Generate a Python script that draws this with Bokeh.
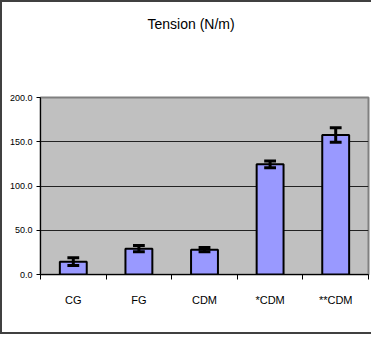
from bokeh.plotting import figure
from bokeh.models import (FixedTicker, PrintfTickFormatter, Range1d, ColumnDataSource, Title)
from bokeh.embed import file_html
from bokeh.resources import INLINE

# ---- data ----
categories = ["CG", "FG", "CDM", "*CDM", "**CDM"]
tension = [14.5, 29.2, 28.0, 124.5, 157.5]
errors = [4.3, 3.6, 2.4, 3.8, 8.2]
y_ticks = [0, 50, 100, 150, 200]
title_text = "Tension (N/m)"

FONT = "Liberation Sans"

xpos = [i + 1 for i in range(len(categories))]
src = ColumnDataSource(dict(
    x=xpos, top=tension,
    lo=[v - e for v, e in zip(tension, errors)],
    hi=[v + e for v, e in zip(tension, errors)],
    cl=[x - 0.09 for x in xpos], cr=[x + 0.09 for x in xpos],
))

# canvas starts at page (10,10) because of the 2px css border
p = figure(width=371, height=334, output_backend="svg", toolbar_location=None,
           x_range=Range1d(0.5, len(categories) + 0.5), y_range=Range1d(0, 200),
           min_border_left=38, min_border_right=5, min_border_top=95,
           min_border_bottom=62)
p.styles = {"border-top": "2px solid #404040", "border-left": "2px solid #404040",
            "border-bottom": "2px solid #404040"}
p.background_fill_color = "#C0C0C0"
p.border_fill_color = "white"
p.outline_line_color = "#808080"
p.outline_line_width = 2
p.title.text = ""

# spacer between the title and the plot frame, then the title itself
p.add_layout(Title(text=" ", text_font_size="1px", standoff=58), "above")
p.add_layout(Title(text=title_text, align="left", offset=107, standoff=10,
                   text_font=FONT, text_font_size="14px", text_font_style="normal",
                   text_color="black"), "above")

# grid
p.xgrid.grid_line_color = None
p.ygrid.grid_line_color = "#222222"
p.ygrid.grid_line_width = 1
p.ygrid.ticker = FixedTicker(ticks=y_ticks)

# y axis
p.yaxis.ticker = FixedTicker(ticks=y_ticks)
p.yaxis.formatter = PrintfTickFormatter(format="%.1f")
p.yaxis.axis_line_color = "black"
p.yaxis.major_tick_in = 0
p.yaxis.major_tick_out = 4
p.yaxis.minor_tick_line_color = None
p.yaxis.major_label_standoff = 4
p.yaxis.major_label_text_font = FONT
p.yaxis.major_label_text_font_size = "9px"
p.yaxis.major_label_text_color = "black"

# x axis: labels at centres, tick marks between categories
p.xaxis.ticker = FixedTicker(ticks=xpos,
                             minor_ticks=[x - 0.5 for x in xpos] + [xpos[-1] + 0.5])
p.xaxis.major_label_overrides = {x: c for x, c in zip(xpos, categories)}
p.xaxis.major_tick_line_color = None
p.xaxis.major_tick_in = 0
p.xaxis.major_tick_out = 0
p.xaxis.minor_tick_in = 0
p.xaxis.minor_tick_out = 5
p.xaxis.minor_tick_line_color = "black"
p.xaxis.axis_line_color = "black"
p.xaxis.major_label_standoff = 14
p.xaxis.major_label_text_font = FONT
p.xaxis.major_label_text_font_size = "11px"
p.xaxis.major_label_text_color = "black"

# bars
p.vbar(x="x", top="top", width=0.41, source=src, fill_color="#9999FF",
       line_color="black", line_width=2)
# error bars
p.segment(x0="x", y0="lo", x1="x", y1="hi", source=src, line_color="black", line_width=3)
p.segment(x0="cl", y0="hi", x1="cr", y1="hi", source=src, line_color="black", line_width=3)
p.segment(x0="cl", y0="lo", x1="cr", y1="lo", source=src, line_color="black", line_width=3)

open("out.html", "w").write(file_html(p, INLINE))
